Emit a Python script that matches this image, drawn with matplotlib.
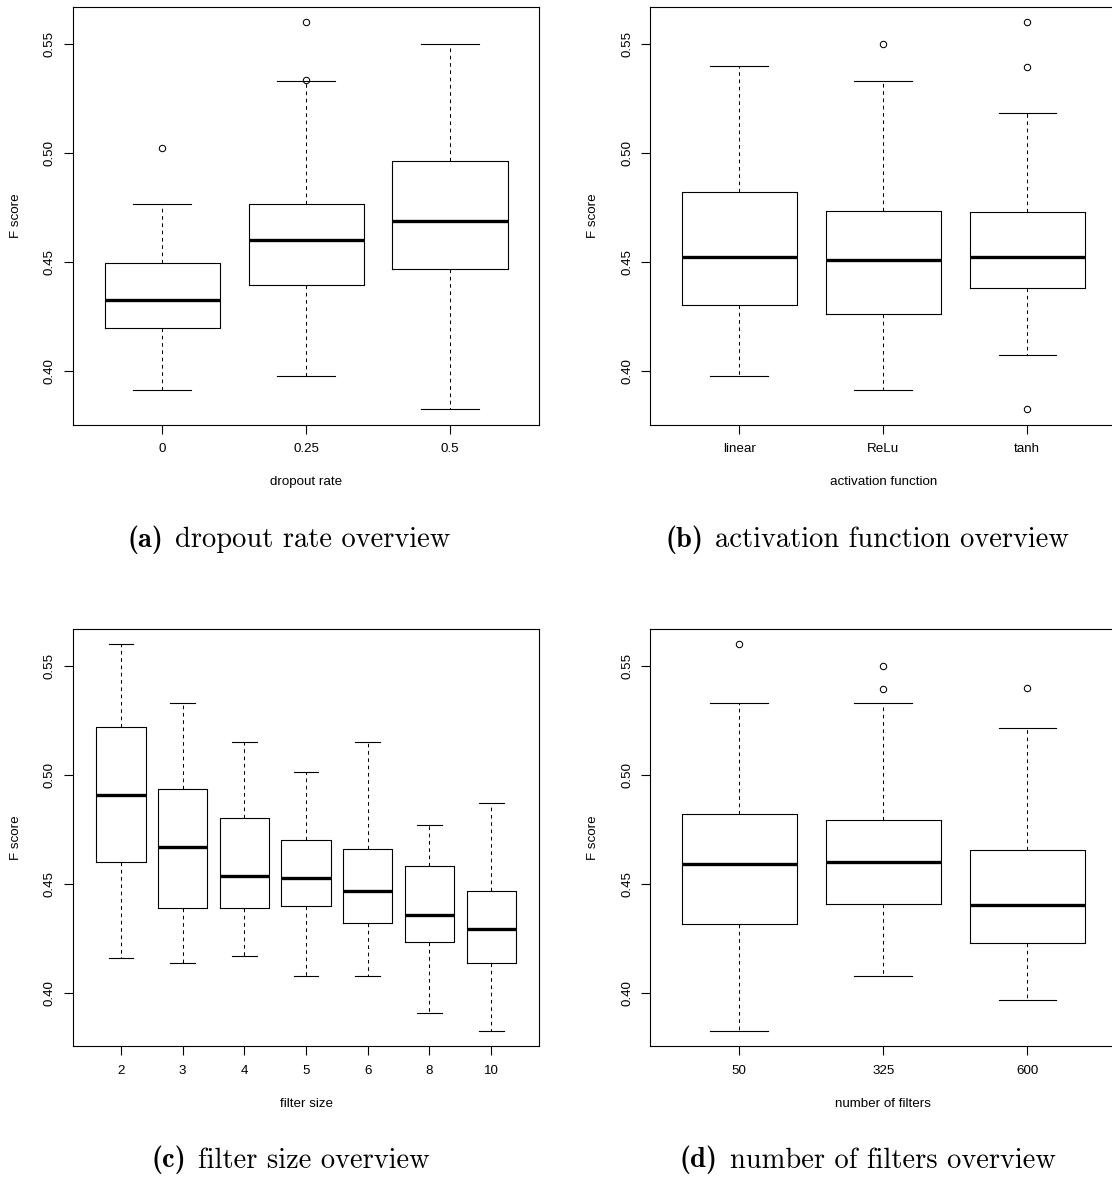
import numpy as np
import matplotlib
matplotlib.use('Agg')
import matplotlib.pyplot as plt

# (a) dropout rate
dropout_labels = ['0', '0.25', '0.5']
dropout_whislo = [0.3910, 0.3978, 0.3824]
dropout_q1     = [0.4196, 0.4393, 0.4468]
dropout_med    = [0.4326, 0.4600, 0.4688]
dropout_q3     = [0.4497, 0.4767, 0.4963]
dropout_whishi = [0.4766, 0.5332, 0.5500]
dropout_fliers = [[0.5022], [0.5335, 0.5600], []]

# (b) activation function
act_labels = ['linear', 'ReLu', 'tanh']
act_whislo = [0.3978, 0.3910, 0.4075]
act_q1     = [0.4303, 0.4261, 0.4379]
act_med    = [0.4521, 0.4511, 0.4524]
act_q3     = [0.4820, 0.4734, 0.4728]
act_whishi = [0.5398, 0.5332, 0.5183]
act_fliers = [[], [0.5500], [0.5600, 0.5396, 0.3824]]

# (c) filter size
fsize_labels = ['2', '3', '4', '5', '6', '8', '10']
fsize_whislo = [0.4159, 0.4136, 0.4168, 0.4077, 0.4077, 0.3910, 0.3826]
fsize_q1     = [0.4600, 0.4391, 0.4389, 0.4400, 0.4321, 0.4234, 0.4139]
fsize_med    = [0.4910, 0.4671, 0.4538, 0.4526, 0.4468, 0.4358, 0.4294]
fsize_q3     = [0.5219, 0.4937, 0.4804, 0.4703, 0.4659, 0.4583, 0.4468]
fsize_whishi = [0.5600, 0.5332, 0.5151, 0.5015, 0.5151, 0.4772, 0.4870]
fsize_fliers = [[], [], [], [], [], [], []]

# (d) number of filters
nfilt_labels = ['50', '325', '600']
nfilt_whislo = [0.3826, 0.4077, 0.3968]
nfilt_q1     = [0.4317, 0.4408, 0.4229]
nfilt_med    = [0.4590, 0.4601, 0.4405]
nfilt_q3     = [0.4821, 0.4794, 0.4655]
nfilt_whishi = [0.5333, 0.5329, 0.5217]
nfilt_fliers = [[0.5600], [0.5500, 0.5396], [0.5398]]

plt.rc('font', family=['Liberation Sans', 'DejaVu Sans'], size=9.6)

W, H = 1112, 1179
fig = plt.figure(figsize=(W / 100, H / 100), dpi=100)


def px_axes(left, top, right, bottom):
    return fig.add_axes([left / W, 1 - bottom / H, (right - left) / W, (bottom - top) / H])


def boxpanel(ax, labels, whislo, q1, med, q3, whishi, fliers, xlabel):
    stats = []
    for i in range(len(labels)):
        stats.append(dict(whislo=whislo[i], q1=q1[i], med=med[i], q3=q3[i],
                          whishi=whishi[i], fliers=fliers[i]))
    n = len(labels)
    ax.bxp(stats, positions=np.arange(1, n + 1), widths=0.8, capwidths=0.4,
           boxprops=dict(color='black', linewidth=0.8),
           medianprops=dict(color='black', linewidth=2.4, solid_capstyle='butt'),
           whiskerprops=dict(color='black', linewidth=0.75, linestyle=(0, (3.5, 3.5))),
           capprops=dict(color='black', linewidth=0.8),
           flierprops=dict(marker='o', markersize=4.6, markerfacecolor='none',
                           markeredgecolor='black', markeredgewidth=0.75),
           manage_ticks=False)
    allv = list(whislo) + list(whishi) + [v for f in fliers for v in f]
    lo, hi = min(allv), max(allv)
    pad = 0.04 * (hi - lo)
    ax.set_ylim(lo - pad, hi + pad)
    ax.set_xlim(0.5 - 0.04 * n, n + 0.5 + 0.04 * n)
    ax.set_xticks(np.arange(1, n + 1))
    ax.set_xticklabels(labels)
    ax.set_yticks([0.40, 0.45, 0.50, 0.55])
    ax.set_yticklabels(['0.40', '0.45', '0.50', '0.55'], rotation=90, va='center')
    ax.tick_params(length=6.2, width=0.8, color='black')
    ax.tick_params(axis='x', pad=7)
    ax.tick_params(axis='y', pad=6)
    for s in ax.spines.values():
        s.set_linewidth(0.8)
    ax.set_xlabel(xlabel, va='center')
    ax.set_ylabel('F score', va='center')


# panel frames in pixels
ax_a = px_axes(72.9, 6.7, 539.3, 424.7)
ax_b = px_axes(650.0, 6.7, 1116.6, 424.7)
ax_c = px_axes(72.9, 629.0, 539.3, 1046.3)
ax_d = px_axes(650.0, 629.0, 1116.6, 1046.3)

boxpanel(ax_a, dropout_labels, dropout_whislo, dropout_q1, dropout_med,
         dropout_q3, dropout_whishi, dropout_fliers, 'dropout rate')
boxpanel(ax_b, act_labels, act_whislo, act_q1, act_med,
         act_q3, act_whishi, act_fliers, 'activation function')
boxpanel(ax_c, fsize_labels, fsize_whislo, fsize_q1, fsize_med,
         fsize_q3, fsize_whishi, fsize_fliers, 'filter size')
boxpanel(ax_d, nfilt_labels, nfilt_whislo, nfilt_q1, nfilt_med,
         nfilt_q3, nfilt_whishi, nfilt_fliers, 'number of filters')

for ax in (ax_a, ax_b, ax_c, ax_d):
    ax.xaxis.set_label_coords(0.5, -57.6 / 417.7)
    ax.yaxis.set_label_coords(-57.0 / 466.4, 0.5)

# subfigure captions: bold tag + roman text (Computer Modern shipped with matplotlib)
captions = [
    (289, 547, '(a)', 'dropout rate overview'),
    (867, 547, '(b)', 'activation function overview'),
    (290.5, 1167.5, '(c)', 'filter size overview'),
    (867.7, 1167.5, '(d)', 'number of filters overview'),
]
cap_size = 20.5
gap = 12
r = fig.canvas.get_renderer()
for cx, cy, tag, txt in captions:
    t1 = fig.text(0, 1 - cy / H, tag, family='cmb10', fontsize=cap_size,
                  ha='left', va='baseline')
    t2 = fig.text(0, 1 - cy / H, txt, family='cmr10', fontsize=cap_size,
                  ha='left', va='baseline')
    w1 = t1.get_window_extent(r).width
    w2 = t2.get_window_extent(r).width
    x0 = cx - (w1 + gap + w2) / 2
    t1.set_x(x0 / W)
    t2.set_x((x0 + w1 + gap) / W)

fig.savefig('out.png', dpi=100, facecolor='white')
